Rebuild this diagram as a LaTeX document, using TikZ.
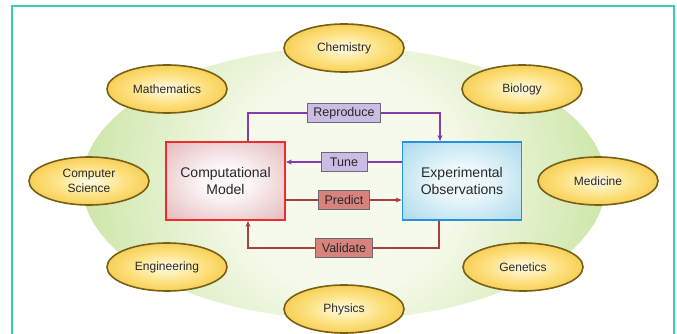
\documentclass[tikz,border=0pt]{standalone}
\usepackage{fontspec}
\setmainfont{Liberation Sans}
\usetikzlibrary{arrows.meta,positioning,shapes.geometric}

\definecolor{frameteal}{RGB}{55,205,180}
\definecolor{fieldin}{RGB}{246,250,236}
\definecolor{fieldmid}{RGB}{200,228,160}
\definecolor{fieldout}{RGB}{138,197,85}
\definecolor{subjectin}{RGB}{255,252,230}
\definecolor{subjectmid}{RGB}{253,224,125}
\definecolor{subjectout}{RGB}{238,180,28}
\definecolor{subjectrim}{RGB}{120,95,20}
\definecolor{compin}{RGB}{252,246,246}
\definecolor{compout}{RGB}{212,146,152}
\definecolor{comprim}{RGB}{235,45,45}
\definecolor{expin}{RGB}{236,248,252}
\definecolor{expout}{RGB}{128,198,226}
\definecolor{exprim}{RGB}{40,145,220}
\definecolor{lavender}{RGB}{202,188,226}
\definecolor{salmon}{RGB}{215,130,125}
\definecolor{tagrim}{RGB}{110,105,115}
\definecolor{purplewire}{RGB}{130,60,172}
\definecolor{redwire}{RGB}{165,65,65}
\definecolor{inkgray}{RGB}{40,40,40}

\pgfdeclareradialshading{fieldshade}{\pgfpoint{0bp}{0bp}}{color(0bp)=(fieldin); color(10bp)=(fieldin); color(27bp)=(fieldmid); color(44bp)=(fieldout); color(50bp)=(fieldout)}
\pgfdeclareradialshading{subjectshade}{\pgfpoint{0bp}{0bp}}{color(0bp)=(subjectin); color(16bp)=(subjectmid); color(40bp)=(subjectout); color(50bp)=(subjectout)}
\pgfdeclareradialshading{compshade}{\pgfpoint{0bp}{0bp}}{color(0bp)=(compin); color(10bp)=(compin); color(52bp)=(compout); color(72bp)=(compout)}
\pgfdeclareradialshading{expshade}{\pgfpoint{0bp}{0bp}}{color(0bp)=(expin); color(10bp)=(expin); color(52bp)=(expout); color(72bp)=(expout)}

\begin{document}
\begin{tikzpicture}[x=1pt, y=-1pt,
    subject/.style={ellipse, minimum width=120pt, minimum height=48pt, inner sep=0pt,
      draw=subjectrim, line width=1.6pt, shading=subjectshade, text=inkgray,
      align=center, font=\fontsize{12}{14.5}\selectfont},
    modelbox/.style={rectangle, minimum width=119pt, minimum height=78pt, inner sep=0pt,
      line width=1.8pt, text=inkgray, align=center, font=\fontsize{14}{17.5}\selectfont},
    tag/.style={rectangle, draw=tagrim, line width=0.9pt, inner xsep=6pt, inner ysep=0pt,
      minimum height=19pt, text=inkgray, font=\fontsize{12.5}{14}\selectfont},
    wiretip/.style={-{Stealth[length=6pt,width=5pt]}},
    thinwire/.style={line width=1.3pt}]
  \useasboundingbox (0,0) rectangle (677,334);
  \draw[frameteal, line width=1.6pt] (12,6) rectangle (674,345);

  % green field behind everything
  \begin{scope}
    \clip (344,183) ellipse [x radius=262, y radius=136];
    \shade[shading=fieldshade] (344,183) circle [radius=262];
  \end{scope}

  % Subjects round the field
  \foreach \nm/\px/\py/\txt in {chem/344/48/Chemistry, math/167/89/Mathematics,
      bio/522/89/Biology, cs/89/181/Computer\\Science, med/598/181/Medicine,
      eng/167/267/Engineering, gen/523/267/Genetics, phys/344/309/Physics}
    \node[subject] (\nm) at (\px,\py) {\txt};

  % Model and observations
  \node[modelbox, draw=comprim, shading=compshade] (comp) at (225.5,181) {Computational\\Model};
  \node[modelbox, draw=exprim, shading=expshade] (exp) at (462,181) {Experimental\\Observations};

  % Labels on the loops
  \node[tag, fill=lavender] (repro) at (344,113) {Reproduce};
  \node[tag, fill=lavender, minimum width=46pt] (tune) at (344,162) {Tune};
  \node[tag, fill=salmon] (pred) at (344,200) {Predict};
  \node[tag, fill=salmon] (val) at (344,248) {Validate};

  % Reproduce
  \draw[purplewire, thinwire] ([xshift=22.5pt]comp.north) |- (repro.west);
  \draw[purplewire, thinwire, wiretip] (repro.east) -| ([xshift=-22pt]exp.north);
  % Tune
  \draw[purplewire, line width=2.6pt] (exp.west |- tune.east) -- (tune.east);
  \draw[purplewire, line width=2.6pt, wiretip] (tune.west) -- (comp.east |- tune.west);
  % Predict
  \draw[redwire, thinwire] (comp.east |- pred.west) -- (pred.west);
  \draw[redwire, thinwire, wiretip] (pred.east) -- (exp.west |- pred.east);
  % Validate
  \draw[redwire, line width=1.7pt] ([xshift=-23pt]exp.south) |- (val.east);
  \draw[redwire, line width=1.7pt, wiretip] (val.west) -| ([xshift=22.5pt]comp.south);
\end{tikzpicture}
\end{document}
